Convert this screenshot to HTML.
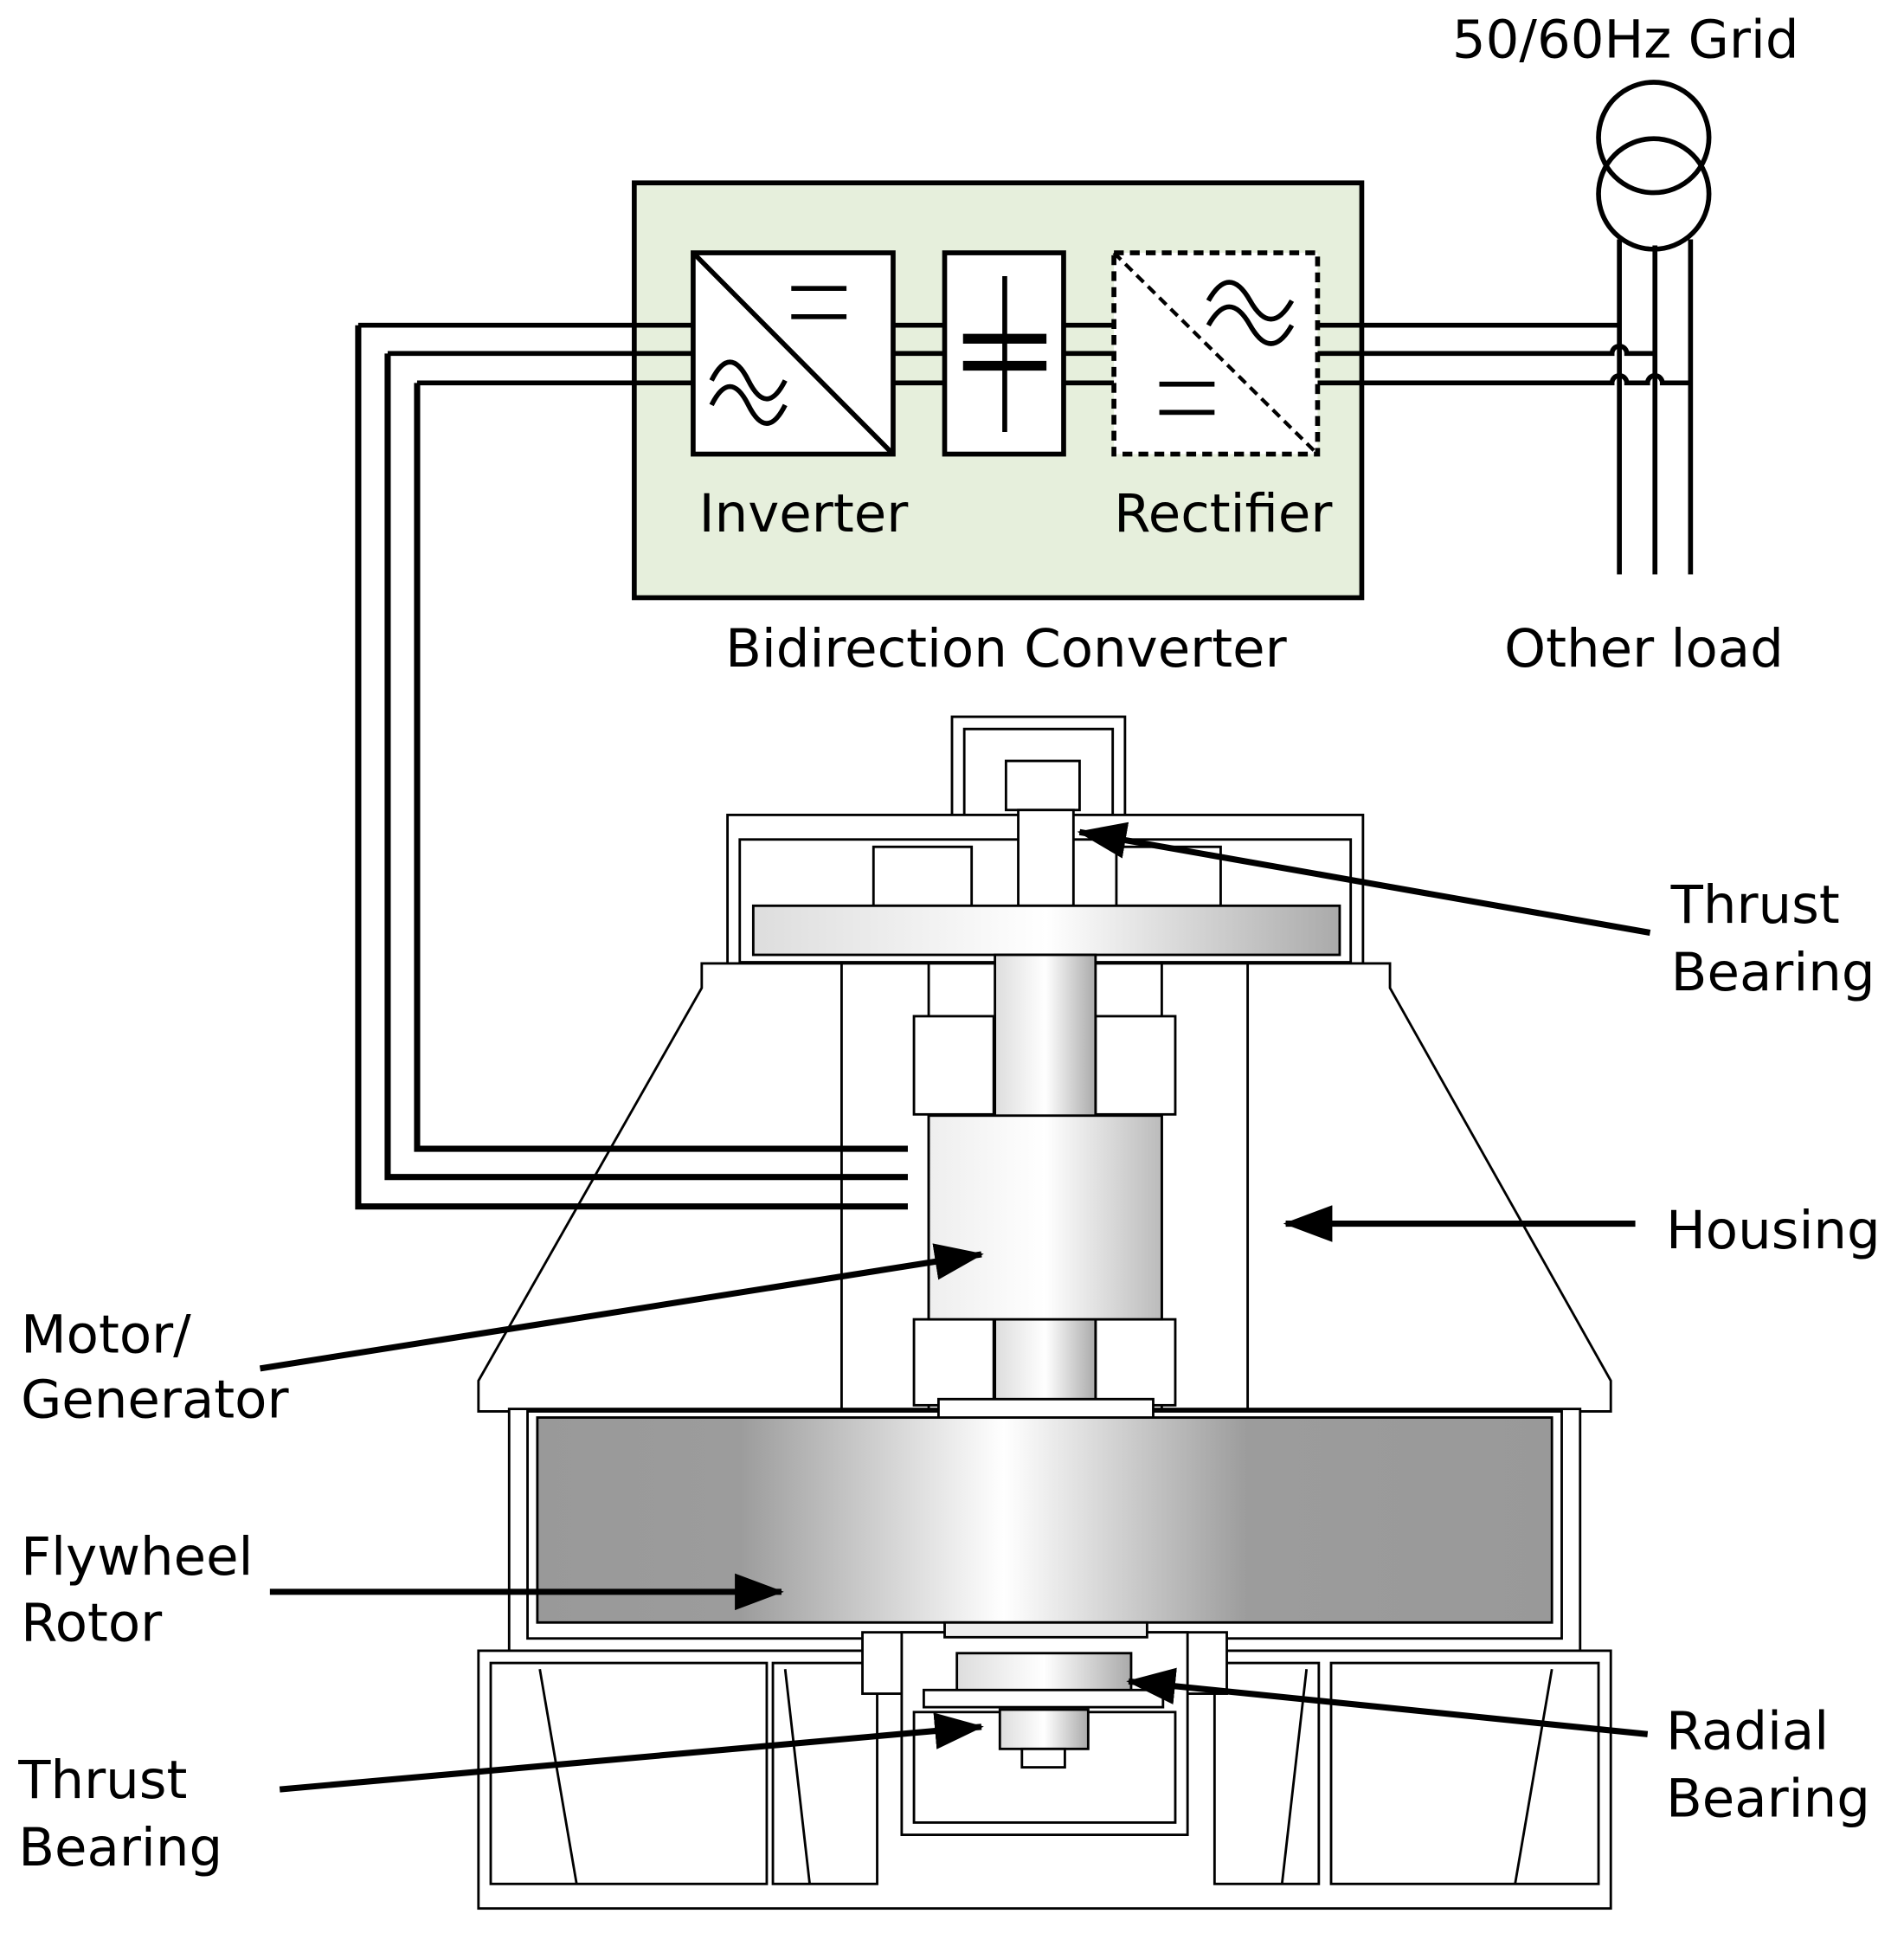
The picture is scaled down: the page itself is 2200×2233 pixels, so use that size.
<!DOCTYPE html>
<html><head><meta charset="utf-8"><style>
html,body{margin:0;padding:0;background:#fff}
svg{display:block}
text{font-family:"DejaVu Sans","Liberation Sans",sans-serif;font-size:43px;fill:#000}
</style></head><body>
<svg width="2200" height="2233" viewBox="0 0 1552 1575" preserveAspectRatio="none" xmlns="http://www.w3.org/2000/svg">
<defs>
<linearGradient id="g1" x1="0" x2="1"><stop offset="0" stop-color="#999"/><stop offset="0.2" stop-color="#9c9c9c"/><stop offset="0.46" stop-color="#fff"/><stop offset="0.7" stop-color="#9c9c9c"/><stop offset="1" stop-color="#999"/></linearGradient>
<linearGradient id="g2" x1="0" x2="1"><stop offset="0" stop-color="#eee"/><stop offset="0.5" stop-color="#fff"/><stop offset="1" stop-color="#bbb"/></linearGradient>
<linearGradient id="g3" x1="0" x2="1"><stop offset="0" stop-color="#ddd"/><stop offset="0.5" stop-color="#fff"/><stop offset="1" stop-color="#aaa"/></linearGradient>
<marker id="ah" markerWidth="40" markerHeight="30" refX="38" refY="15" orient="auto" markerUnits="userSpaceOnUse" viewBox="0 0 40 30"><path d="M0,0 L40,15 L0,30z"/></marker>
</defs>
<!-- converter -->
<rect x="517" y="149" width="593" height="338" fill="#e6efdc" stroke="#000" stroke-width="4"/>
<g stroke="#000" stroke-width="4" fill="none">
<path d="M292,265 H565 M316,288 H565 M340,312 H565"/>
<path d="M728,265 H770 M728,288 H770 M728,312 H770 M867,265 H908 M867,288 H908 M867,312 H908"/>
<path d="M1074,265 H1320 M1074,288 H1314 a6,6 0 0 1 12,0 H1349 M1074,312 H1314 a6,6 0 0 1 12,0 H1343 a6,6 0 0 1 12,0 H1378"/>
<path d="M1320,195 V468 M1349,200 V468 M1378,195 V468"/>
<circle cx="1348" cy="112" r="45"/><circle cx="1348" cy="158" r="45"/>
</g>
<rect x="565" y="206" width="163" height="164" fill="#fff" stroke="#000" stroke-width="4"/>
<path d="M565,206 L728,370 M645,235 H690 M645,258 H690" stroke="#000" stroke-width="4"/>
<path d="M580,310 q15,-30 30,0 t30,0 M580,330 q15,-30 30,0 t30,0" stroke="#000" stroke-width="4" fill="none"/>
<rect x="770" y="206" width="97" height="164" fill="#fff" stroke="#000" stroke-width="4"/>
<path d="M819,225 V352" stroke="#000" stroke-width="4"/>
<path d="M785,276 H853 M785,298 H853" stroke="#000" stroke-width="8"/>
<rect x="908" y="206" width="166" height="164" fill="#fff" stroke="#000" stroke-width="4" stroke-dasharray="8,5"/>
<path d="M908,206 L1074,370" stroke="#000" stroke-width="3" stroke-dasharray="8,5"/>
<path d="M985,245 q17,-30 34,0 t34,0 M985,265 q17,-30 34,0 t34,0" stroke="#000" stroke-width="4" fill="none"/>
<path d="M945,313 H990 M945,336 H990" stroke="#000" stroke-width="4"/>
<text x="655" y="433" text-anchor="middle">Inverter</text>
<text x="997" y="433" text-anchor="middle">Rectifier</text>
<text x="820" y="543" text-anchor="middle">Bidirection Converter</text>
<text x="1340" y="543" text-anchor="middle">Other load</text>
<text x="1325" y="47" text-anchor="middle">50/60Hz Grid</text>
<!-- machine -->
<g stroke="#000" stroke-width="2" fill="#fff">
<rect x="776" y="584" width="141" height="80"/>
<rect x="786" y="594" width="121" height="70"/>
<rect x="593" y="664" width="518" height="121"/>
<rect x="603" y="684" width="498" height="100"/>
<rect x="820" y="620" width="60" height="40"/>
<rect x="830" y="660" width="45" height="78"/>
<rect x="712" y="690" width="80" height="48"/>
<rect x="910" y="690" width="85" height="48"/>
<path d="M572,785 H1133 V805 L1313,1125 V1150 H390 V1125 L572,805 Z"/>
<rect x="686" y="785" width="331" height="372"/>
<path d="M757,785 V1157 M947,785 V1157"/>
<rect x="745" y="828" width="65" height="80"/><rect x="893" y="828" width="65" height="80"/>
<rect x="745" y="1075" width="65" height="70"/><rect x="893" y="1075" width="65" height="70"/>
<rect x="415" y="1148" width="873" height="197"/>
<rect x="430" y="1150" width="843" height="185"/>
<rect x="390" y="1345" width="923" height="210"/>
<rect x="400" y="1355" width="225" height="180"/><rect x="1085" y="1355" width="218" height="180"/>
<rect x="630" y="1355" width="85" height="180"/><rect x="990" y="1355" width="85" height="180"/>
<rect x="703" y="1330" width="297" height="50"/>
<rect x="735" y="1330" width="233" height="165"/>
<rect x="745" y="1395" width="213" height="90"/>
<path d="M440,1360 L470,1535 M1265,1360 L1235,1535 M640,1360 L660,1535 M1065,1360 L1045,1535"/>
</g>
<rect x="614" y="738" width="478" height="40" fill="url(#g3)" stroke="#000" stroke-width="2"/>
<rect x="811" y="778" width="82" height="368" fill="url(#g3)" stroke="#000" stroke-width="2"/>
<rect x="757" y="909" width="190" height="166" fill="url(#g2)" stroke="#000" stroke-width="2"/>
<rect x="765" y="1140" width="175" height="17" fill="#fff" stroke="#000" stroke-width="2"/>
<rect x="438" y="1155" width="827" height="167" fill="url(#g1)" stroke="#000" stroke-width="2"/>
<rect x="770" y="1322" width="165" height="12" fill="#eee" stroke="#000" stroke-width="2"/>
<rect x="780" y="1347" width="142" height="40" fill="url(#g3)" stroke="#000" stroke-width="2"/>
<rect x="753" y="1377" width="195" height="14" fill="#fff" stroke="#000" stroke-width="2"/>
<rect x="815" y="1393" width="72" height="32" fill="url(#g3)" stroke="#000" stroke-width="2"/>
<rect x="833" y="1425" width="35" height="15" fill="#fff" stroke="#000" stroke-width="2"/>
<!-- wires over housing -->
<path d="M292,265 V983 H740 M316,288 V959 H740 M340,312 V936 H740" stroke="#000" stroke-width="5" fill="none"/>
<!-- arrows -->
<g stroke="#000" stroke-width="5" marker-end="url(#ah)" fill="none">
<path d="M1345,760 L880,678"/>
<path d="M1333,997 L1048,997"/>
<path d="M212,1115 L800,1022"/>
<path d="M220,1297 L637,1297"/>
<path d="M228,1458 L800,1407"/>
<path d="M1343,1413 L920,1370"/>
</g>
<g>
<text x="1362" y="752">Thrust</text><text x="1362" y="807">Bearing</text>
<text x="1358" y="1017">Housing</text>
<text x="17" y="1102">Motor/</text><text x="17" y="1155">Generator</text>
<text x="17" y="1283">Flywheel</text><text x="17" y="1337">Rotor</text>
<text x="15" y="1465">Thrust</text><text x="15" y="1520">Bearing</text>
<text x="1358" y="1425">Radial</text><text x="1358" y="1480">Bearing</text>
</g>
</svg>
</body></html>
